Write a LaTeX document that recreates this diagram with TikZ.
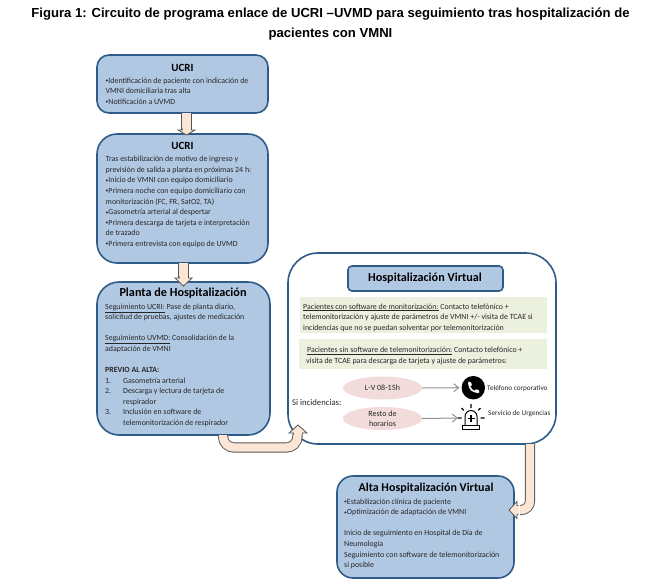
\documentclass[tikz,border=0pt]{standalone}
\usepackage{fontspec}
\setmainfont{Carlito}
\newfontfamily\titlefont{Liberation Sans}
\usetikzlibrary{calc,arrows.meta,shapes.geometric}
\definecolor{boxblue}{HTML}{B1C8E3}
\definecolor{boxline}{HTML}{2F5B88}
\definecolor{peach}{HTML}{FBE6D5}
\definecolor{arrowline}{HTML}{555555}
\definecolor{softgreen}{HTML}{EBF0DF}
\definecolor{softpink}{HTML}{F1DCDB}
\definecolor{inktext}{HTML}{262626}
\newcommand{\bul}{{\fontsize{5.5}{5.5}\selectfont\raisebox{0.6pt}{•}}}
\tikzset{
  bluebox/.style={draw=boxline,fill=boxblue,line width=1.6pt,inner sep=0pt,outer sep=0pt},
  whitebox/.style={draw=boxline,fill=white,line width=1.6pt,inner sep=0pt,outer sep=0pt},
  greenbox/.style={fill=softgreen,inner sep=0pt,outer sep=0pt},
  pinkoval/.style={ellipse,fill=softpink,inner sep=0pt,outer sep=0pt,minimum width=79pt,text=inktext,font=\fontsize{8}{10.5}\selectfont,align=center},
  boxtitle/.style={inner sep=0pt,font=\bfseries\fontsize{11}{13}\selectfont,text=black},
  bodytext/.style={anchor=north west,inner sep=0pt,align=left,text=inktext,font=\fontsize{7.9}{10.6}\selectfont},
  smalltext/.style={anchor=west,inner sep=0pt,text=inktext,font=\fontsize{7.2}{8}\selectfont},
  titletext/.style={inner sep=0pt,font=\titlefont\bfseries\fontsize{13.1}{15}\selectfont,text=black},
  shaftout/.style={draw=arrowline,line width=10.2pt,line cap=butt},
  shaftin/.style={draw=peach,line width=8.4pt,line cap=butt},
  headst/.style={draw=arrowline,fill=peach,line width=0.8pt,line join=miter},
  greyarrow/.style={draw=gray!85,line width=1pt,-{Straight Barb[length=5pt,width=8pt]}},
}
\newcommand{\blockhead}[4]{% tip, angle, half-width, length
  \draw[headst,shift={(#1)},rotate=#2] (0,0) -- (-#4,#3) -- (-#4,4.4) -- (-#4-1,4.4) -- (-#4-1,-4.4) -- (-#4,-4.4) -- (-#4,-#3) -- cycle;
  \fill[peach,shift={(#1)},rotate=#2] (-#4-1.6,4) rectangle (-#4+0.6,-4);
}
\begin{document}
\begin{tikzpicture}[x=1pt,y=-1pt]
\useasboundingbox (0,0) rectangle (660,582);

% title
\node[titletext] (t1) at (330.5,14) {Figura 1: Circuito de programa enlace de UCRI –UVMD para seguimiento tras hospitalización de};
\node[titletext] (t2) at (330.5,34) {pacientes con VMNI};

% boxes
\node[bluebox,rounded corners=12pt,minimum width=171pt,minimum height=58pt] (b1) at (182.5,84) {};
\node[bluebox,rounded corners=20pt,minimum width=171pt,minimum height=129pt] (b2) at (182.5,198.5) {};
\node[bluebox,rounded corners=22pt,minimum width=173pt,minimum height=153pt] (b3) at (183.5,358.5) {};
\node[whitebox,rounded corners=30pt,minimum width=268pt,minimum height=191pt] (big) at (422,348.5) {};
\node[bluebox,rounded corners=4pt,minimum width=155pt,minimum height=25pt] (hv) at (425.5,278.5) {};
\node[bluebox,rounded corners=16pt,minimum width=177pt,minimum height=102pt] (alta) at (425.5,527) {};
\node[greenbox,minimum width=247pt,minimum height=36pt] (g1) at (423.5,315) {};
\node[greenbox,minimum width=248pt,minimum height=30pt] (g2) at (423,354) {};

% box titles
\node[boxtitle] (t3) at (182.5,68) {UCRI};
\node[boxtitle] (t4) at (182.5,146) {UCRI};
\node[boxtitle,font=\bfseries\fontsize{12.2}{14}\selectfont] (t5) at (183,293.5) {Planta de Hospitalización};
\node[boxtitle,font=\bfseries\fontsize{12.2}{14}\selectfont] (t6) at (425,278.5) {Hospitalización Virtual};
\node[boxtitle,font=\bfseries\fontsize{12}{14}\selectfont] (t7) at (426,488) {Alta Hospitalización Virtual};

% bodies
\node[bodytext] (x1) at (105.5,77.5) {\bul Identificación de paciente con indicación de\\VMNI domiciliaria tras alta\\\bul Notificación a UVMD};
\node[bodytext] (x2) at (105.5,156) {Tras estabilización de motivo de ingreso y\\previsión de salida a planta en próximas 24 h:\\\bul Inicio de VMNI con equipo domiciliario\\\bul Primera noche con equipo domiciliario con\\monitorización (FC, FR, SatO2, TA)\\\bul Gasometría arterial al despertar\\\bul Primera descarga de tarjeta e interpretación\\de trazado\\\bul Primera entrevista con equipo de UVMD};
\node[bodytext] (x3) at (105,303.5) {\underline{Seguimiento UCRI:} Pase de planta diario,\\solicitud de pruebas, ajustes de medicación\\[10.5pt]\underline{Seguimiento UVMD:} Consolidación de la\\adaptación de VMNI\\[10.5pt]\textbf{PREVIO AL ALTA:}\\\makebox[18pt][l]{1.}Gasometría arterial\\\makebox[18pt][l]{2.}Descarga y lectura de tarjeta de\\\makebox[18pt][l]{}respirador\\\makebox[18pt][l]{3.}Inclusión en software de\\\makebox[18pt][l]{}telemonitorización de respirador};
\node[bodytext] (x4) at (303,303.5) {\underline{Pacientes con software de monitorización:} Contacto telefónico +\\telemonitorización y ajuste de parámetros de VMNI +/- visita de TCAE si\\incidencias que no se puedan solventar por telemonitorización};
\node[bodytext] (x5) at (306,347) {\hspace{1pt}\underline{Pacientes sin software de telemonitorización:} Contacto telefónico +\\visita de TCAE para descarga de tarjeta y ajuste de parámetros:};
\node[bodytext] (x6) at (344,498.5) {\bul Estabilización clínica de paciente\\\bul Optimización de adaptación de VMNI\\[10.5pt]Inicio de seguimiento en Hospital de Día de\\Neumología\\Seguimiento con software de telemonitorización\\si posible};
\node[bodytext,anchor=west,font=\fontsize{8.7}{10.5}\selectfont] (x7) at (292,403) {Si incidencias:};

% ovals
\node[pinkoval,minimum height=23pt] (e1) at (382.5,388) {L-V 08-15h};
\node[pinkoval,minimum height=23pt] (e2) at (382.5,418.5) {Resto de\\horarios};

% phone icon
\node[circle,fill=black,minimum size=23.5pt,inner sep=0pt,outer sep=2pt] (phone) at (473.3,387.7) {};
\draw[white,line width=1.6pt,line cap=round] ($(phone.center)+(-4.2,-4.6)$) .. controls ($(phone.center)+(-4.6,1)$) and ($(phone.center)+(0,4.8)$) .. ($(phone.center)+(4.8,4.2)$);
\draw[white,line width=3pt,line cap=round] ($(phone.center)+(-4,-4.8)$) -- ($(phone.center)+(-2.8,-2.8)$);
\draw[white,line width=3pt,line cap=round] ($(phone.center)+(2.8,3)$) -- ($(phone.center)+(4.8,4)$);

% alarm icon
\node[minimum width=26pt,minimum height=20pt,inner sep=0pt,outer sep=0pt] (alarm) at (471,418) {};
\begin{scope}[shift={(alarm.center)},line width=1pt,black]
  \draw (-6,7) -- (-6,-1.5) arc[start angle=180,end angle=0,x radius=6,y radius=-6] -- (6,7);
  \draw (-8.5,7) rectangle (8.5,11);
  \draw[line width=1.1pt] (0,-3) -- (0,4) (-3.5,0.5) -- (3.5,0.5);
  \draw[line width=1.2pt] (0,-14) -- (0,-10) (-9.5,-10) -- (-7.2,-7.6) (9.5,-10) -- (7.2,-7.6) (-13.5,0) -- (-9.5,0) (9.5,0) -- (13.5,0);
\end{scope}

% icon labels
\node[smalltext] (l1) at (487,388.5) {Teléfono corporativo};
\node[smalltext] (l2) at (488,414) {Servicio de Urgencias};

% thin arrows
\draw[greyarrow] (e1.east) -- (phone.west);
\draw[greyarrow] (e2.east) -- (alarm.west);

% block arrows
\coordinate (h1) at ($(b2.north)+(4,-2)$);
\draw[shaftout] (b1.south -| h1) -- ($(h1)+(0,-2)$);
\draw[shaftin] (b1.south -| h1) -- ($(h1)+(0,-2)$);
\blockhead{$(b2.north)+(4,1)$}{-90}{8.5}{5}

\coordinate (h2) at ($(b3.north)+(0,0)$);
\draw[shaftout] (b2.south -| h2) -- ($(h2)+(0,-4)$);
\draw[shaftin] (b2.south -| h2) -- ($(h2)+(0,-4)$);
\blockhead{$(b3.north)+(0,4)$}{-90}{8.5}{8}

\coordinate (a3s) at ($(b3.south)+(39.5,0)$);
\coordinate (a3m) at ($(big.south west)+(9.5,3.5)$);
\coordinate (a3e) at ($(big.south west)+(9.5,-10)$);
\draw[shaftout,rounded corners=11pt] (a3s) |- (a3m) -- (a3e);
\draw[shaftin,rounded corners=11pt] (a3s) |- (a3m) -- (a3e);
\blockhead{$(big.south west)+(10,-19)$}{90}{9}{8}

\coordinate (a4s) at ($(big.south)+(108,0)$);
\coordinate (a4e) at ($(alta.east)+(6,-17)$);
\draw[shaftout,rounded corners=9pt] (a4s) |- (a4e);
\draw[shaftin,rounded corners=9pt] (a4s) |- (a4e);
\blockhead{$(alta.east)+(-5,-17)$}{180}{8.5}{8}
\end{tikzpicture}
\end{document}
